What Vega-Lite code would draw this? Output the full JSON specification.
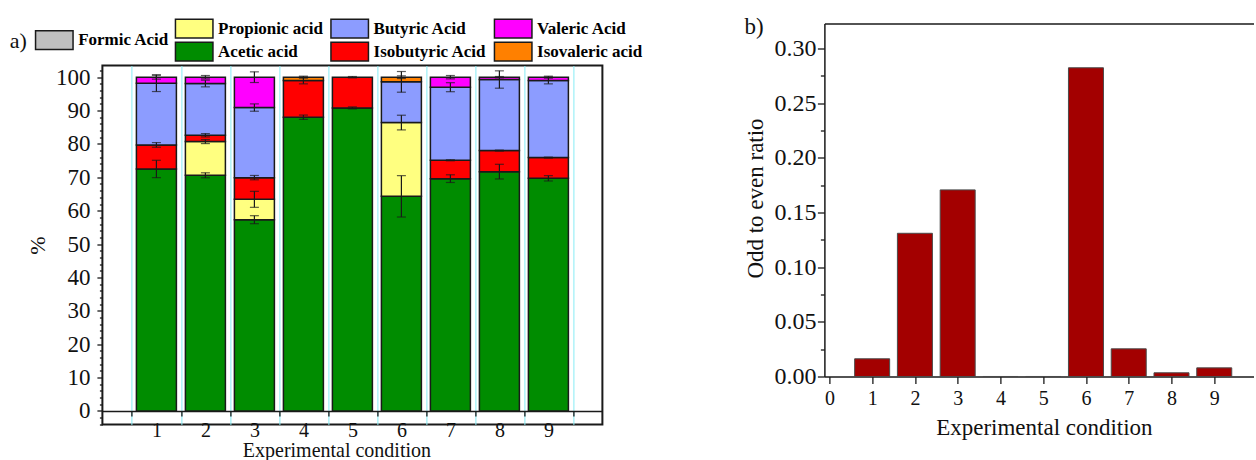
{
  "$schema": "https://vega.github.io/schema/vega-lite/v6.json",
  "background": "white",
  "padding": {"left": 8.4, "top": 10.5, "right": 0, "bottom": 0},
  "bounds": "flush",
  "spacing": 722,
  "config": {
    "font": "Liberation Serif",
    "view": {"stroke": null},
    "axis": {
      "labelFont": "Liberation Serif",
      "titleFont": "Liberation Serif",
      "titleFontWeight": "normal",
      "labelColor": "#111",
      "titleColor": "#111",
      "domainColor": "#1a1a1a",
      "tickColor": "#1a1a1a",
      "domainWidth": 1.5,
      "tickWidth": 1.3,
      "grid": false,
      "labelFlush": false,
      "labelOverlap": false
    },
    "legend": {"labelFont": "Liberation Serif", "titleFont": "Liberation Serif"},
    "title": {"font": "Liberation Serif"}
  },
  "datasets": {
    "acids": [
      {"cond": 1, "acid": "Formic Acid", "pct": 0, "sd": 0},
      {"cond": 2, "acid": "Formic Acid", "pct": 0, "sd": 0},
      {"cond": 3, "acid": "Formic Acid", "pct": 0, "sd": 0},
      {"cond": 4, "acid": "Formic Acid", "pct": 0, "sd": 0},
      {"cond": 5, "acid": "Formic Acid", "pct": 0, "sd": 0},
      {"cond": 6, "acid": "Formic Acid", "pct": 0, "sd": 0},
      {"cond": 7, "acid": "Formic Acid", "pct": 0, "sd": 0},
      {"cond": 8, "acid": "Formic Acid", "pct": 0, "sd": 0},
      {"cond": 9, "acid": "Formic Acid", "pct": 0, "sd": 0},

      {"cond": 1, "acid": "Acetic acid", "pct": 72.5, "sd": 2.6},
      {"cond": 1, "acid": "Isobutyric Acid", "pct": 7.2, "sd": 0.7},
      {"cond": 1, "acid": "Butyric Acid", "pct": 18.5, "sd": 2.5},
      {"cond": 1, "acid": "Valeric Acid", "pct": 1.8, "sd": 0.6},

      {"cond": 2, "acid": "Acetic acid", "pct": 70.6, "sd": 0.75},
      {"cond": 2, "acid": "Propionic acid", "pct": 10.1, "sd": 0.6},
      {"cond": 2, "acid": "Isobutyric Acid", "pct": 1.9, "sd": 0.5},
      {"cond": 2, "acid": "Butyric Acid", "pct": 15.5, "sd": 1.0},
      {"cond": 2, "acid": "Valeric Acid", "pct": 1.9, "sd": 0.5},

      {"cond": 3, "acid": "Acetic acid", "pct": 57.3, "sd": 1.2},
      {"cond": 3, "acid": "Propionic acid", "pct": 6.1, "sd": 2.4},
      {"cond": 3, "acid": "Isobutyric Acid", "pct": 6.5, "sd": 0.65},
      {"cond": 3, "acid": "Butyric Acid", "pct": 21.0, "sd": 1.1},
      {"cond": 3, "acid": "Valeric Acid", "pct": 9.1, "sd": 1.6},

      {"cond": 4, "acid": "Acetic acid", "pct": 88.0, "sd": 0.65},
      {"cond": 4, "acid": "Isobutyric Acid", "pct": 11.0, "sd": 1.0},
      {"cond": 4, "acid": "Isovaleric acid", "pct": 1.0, "sd": 0.3},

      {"cond": 5, "acid": "Acetic acid", "pct": 90.8, "sd": 0.3},
      {"cond": 5, "acid": "Isobutyric Acid", "pct": 9.2, "sd": 0.2},

      {"cond": 6, "acid": "Acetic acid", "pct": 64.3, "sd": 6.2},
      {"cond": 6, "acid": "Propionic acid", "pct": 22.1, "sd": 2.2},
      {"cond": 6, "acid": "Butyric Acid", "pct": 12.2, "sd": 3.1},
      {"cond": 6, "acid": "Isovaleric acid", "pct": 1.4, "sd": 0.4},

      {"cond": 7, "acid": "Acetic acid", "pct": 69.6, "sd": 1.15},
      {"cond": 7, "acid": "Isobutyric Acid", "pct": 5.5, "sd": 0.15},
      {"cond": 7, "acid": "Butyric Acid", "pct": 21.9, "sd": 1.35},
      {"cond": 7, "acid": "Valeric Acid", "pct": 3.0, "sd": 0.5},

      {"cond": 8, "acid": "Acetic acid", "pct": 71.7, "sd": 2.2},
      {"cond": 8, "acid": "Isobutyric Acid", "pct": 6.3, "sd": 0.15},
      {"cond": 8, "acid": "Butyric Acid", "pct": 21.3, "sd": 2.6},
      {"cond": 8, "acid": "Valeric Acid", "pct": 0.7, "sd": 0.2},

      {"cond": 9, "acid": "Acetic acid", "pct": 69.7, "sd": 0.8},
      {"cond": 9, "acid": "Isobutyric Acid", "pct": 6.2, "sd": 0.15},
      {"cond": 9, "acid": "Butyric Acid", "pct": 23.1, "sd": 1.0},
      {"cond": 9, "acid": "Valeric Acid", "pct": 1.0, "sd": 0.3}
    ],
    "ratio": [
      {"cond": 1, "ratio": 0.0162},
      {"cond": 2, "ratio": 0.131},
      {"cond": 3, "ratio": 0.1707},
      {"cond": 4, "ratio": 0},
      {"cond": 5, "ratio": 0},
      {"cond": 6, "ratio": 0.2824},
      {"cond": 7, "ratio": 0.0253},
      {"cond": 8, "ratio": 0.0034},
      {"cond": 9, "ratio": 0.0079}
    ]
  },
  "hconcat": [
    {
      "bounds": "flush",
      "spacing": 41,
      "vconcat": [
        {
          "width": 500,
          "height": 1,
          "data": {"values": []},
          "mark": {"type": "point", "opacity": 0},
          "encoding": {}
        },
        {
          "width": 500,
          "height": 359,
          "view": {"stroke": "#1a1a1a", "strokeWidth": 2},
          "data": {"name": "acids"},
          "transform": [
            {"calculate": "indexof(['Formic Acid','Acetic acid','Propionic acid','Isobutyric Acid','Butyric Acid','Valeric Acid','Isovaleric acid'], datum.acid)", "as": "stackRank"},
            {"stack": "pct", "groupby": ["cond"], "sort": [{"field": "stackRank", "order": "ascending"}], "as": ["pctLow", "pctHigh"]}
          ],
          "resolve": {
            "scale": {"color": "independent"},
            "axis": {"x": "independent", "y": "independent"}
          },
          "layer": [
            {
              "transform": [{"filter": "datum.acid === 'Formic Acid'"}],
              "mark": {"type": "bar", "size": 40, "stroke": "#1a1a1a", "strokeWidth": 1.5},
              "encoding": {
                "x": {
                  "field": "cond", "type": "quantitative",
                  "scale": {"domain": [0, 10], "nice": false, "zero": false},
                  "axis": {"orient": "bottom", "values": [0.5, 1.5, 2.5, 3.5, 4.5, 5.5, 6.5, 7.5, 8.5, 9.5], "grid": true, "gridColor": "#86ecf5", "gridWidth": 1, "ticks": false, "tickSize": 0, "labels": false, "domain": false, "title": null}
                },
                "y": {
                  "field": "pctLow", "type": "quantitative",
                  "scale": {"domain": [-4.07, 103.5], "nice": false, "zero": false},
                  "axis": null
                },
                "y2": {"field": "pctHigh"},
                "color": {
                  "field": "acid", "type": "nominal",
                  "scale": {"domain": ["Formic Acid"], "range": ["#c0c0c0"]},
                  "legend": {
                    "orient": "none", "legendX": -92.6, "legendY": -36,
                    "title": "a)", "titleOrient": "left", "titleFontSize": 22, "titleFontWeight": "normal", "titleColor": "#111",
                    "titleAnchor": "middle", "titleBaseline": "middle", "titlePadding": 16,
                    "symbolType": "M-2,-1H2V1H-2Z", "symbolSize": 351.6, "symbolStrokeColor": "#1a1a1a", "symbolStrokeWidth": 1.5,
                    "labelFontSize": 17, "labelFontWeight": "bold", "labelColor": "#000", "labelOffset": 13.4, "padding": 0
                  }
                }
              }
            },
            {
              "transform": [{"filter": "datum.acid !== 'Formic Acid'"}],
              "mark": {"type": "bar", "size": 40, "stroke": "#1a1a1a", "strokeWidth": 1.5},
              "encoding": {
                "x": {
                  "field": "cond", "type": "quantitative",
                  "scale": {"domain": [0, 10], "nice": false, "zero": false},
                  "axis": {"orient": "bottom", "values": [1, 2, 3, 4, 5, 6, 7, 8, 9], "ticks": false, "tickSize": 0, "domain": false, "labelFontSize": 20, "labelBaseline": "alphabetic", "labelPadding": 11.7, "title": "Experimental condition", "titleFontSize": 20, "titleBaseline": "alphabetic", "titleAlign": "center", "titleX": 234, "titleY": 32}
                },
                "y": {
                  "field": "pctLow", "type": "quantitative",
                  "scale": {"domain": [-4.07, 103.5], "nice": false, "zero": false},
                  "axis": {"orient": "left", "values": [0, 10, 20, 30, 40, 50, 60, 70, 80, 90, 100], "tickSize": 5.5, "labelFontSize": 23, "labelPadding": 7, "domain": false, "title": "%", "titleFontSize": 22, "titleAngle": -90, "titleBaseline": "alphabetic", "titleAlign": "center", "titleX": -57.7, "titleY": 179.5}
                },
                "y2": {"field": "pctHigh"},
                "color": {
                  "field": "acid", "type": "nominal",
                  "scale": {
                    "domain": ["Propionic acid", "Acetic acid", "Butyric Acid", "Isobutyric Acid", "Valeric Acid", "Isovaleric acid"],
                    "range": ["#ffff80", "#008c00", "#8c9cff", "#ff0000", "#ff00ff", "#ff8000"]
                  },
                  "legend": {
                    "orient": "none", "legendX": 75.3, "legendY": -53.5, "columns": 3, "title": null, "padding": 6,
                    "symbolType": "M-2,-1H2V1H-2Z", "symbolSize": 351.6, "symbolStrokeColor": "#1a1a1a", "symbolStrokeWidth": 1.5,
                    "labelFontSize": 17, "labelFontWeight": "bold", "labelColor": "#000", "labelOffset": 13.4, "labelLimit": 220,
                    "columnPadding": 3.5, "rowPadding": -2
                  }
                }
              }
            },
            {
              "transform": [{"filter": "datum.acid === 'Formic Acid'"}],
              "mark": {"type": "bar", "size": 40, "opacity": 0},
              "encoding": {
                "x": {
                  "field": "cond", "type": "quantitative",
                  "scale": {"domain": [0, 10], "nice": false, "zero": false},
                  "axis": {"orient": "bottom", "offset": -13.6, "values": [0.5, 1.5, 2.5, 3.5, 4.5, 5.5, 6.5, 7.5, 8.5, 9.5], "tickSize": 5, "labels": false, "domain": true, "title": null}
                },
                "y": {
                  "field": "pctLow", "type": "quantitative",
                  "scale": {"domain": [-4.07, 103.5], "nice": false, "zero": false},
                  "axis": {"orient": "left", "values": [-4, -2, 2, 4, 6, 8, 12, 14, 16, 18, 22, 24, 26, 28, 32, 34, 36, 38, 42, 44, 46, 48, 52, 54, 56, 58, 62, 64, 66, 68, 72, 74, 76, 78, 82, 84, 86, 88, 92, 94, 96, 98, 102], "tickSize": 3, "labels": false, "domain": false, "title": null}
                },
                "y2": {"field": "pctHigh"}
              }
            },
            {
              "transform": [{"filter": "datum.acid !== 'Formic Acid'"}],
              "mark": {
                "type": "errorbar",
                "ticks": {"size": 9, "color": "#1a1a1a", "thickness": 1.2},
                "rule": {"color": "#1a1a1a", "strokeWidth": 1.2}
              },
              "encoding": {
                "x": {"field": "cond", "type": "quantitative", "scale": {"domain": [0, 10], "nice": false, "zero": false}, "axis": null},
                "y": {"field": "pctHigh", "type": "quantitative", "scale": {"domain": [-4.07, 103.5], "nice": false, "zero": false}, "axis": null},
                "yError": {"field": "sd"}
              }
            }
          ]
        }
      ]
    },
    {
      "width": 429.5,
      "height": 353,
      "data": {"name": "ratio"},
      "title": {"text": "b)", "anchor": "start", "frame": "bounds", "orient": "top", "fontSize": 23, "fontWeight": "normal", "color": "#111", "baseline": "alphabetic", "offset": -7.3, "dy": 26},
      "resolve": {"axis": {"x": "independent", "y": "independent"}},
      "layer": [
        {
          "mark": {"type": "bar", "size": 35, "fill": "#a30000", "stroke": "#4a4a4a", "strokeWidth": 1},
          "encoding": {
            "x": {
              "field": "cond", "type": "quantitative",
              "scale": {"domain": [0, 9.81], "nice": false, "zero": false},
              "axis": {"orient": "bottom", "values": [0, 1, 2, 3, 4, 5, 6, 7, 8, 9], "tickSize": 7, "labelFontSize": 20, "labelBaseline": "alphabetic", "labelPadding": 20.7, "title": "Experimental condition", "titleFontSize": 23, "titleBaseline": "alphabetic", "titleAlign": "center", "titleX": 219.5, "titleY": 58.3}
            },
            "y": {
              "field": "ratio", "type": "quantitative",
              "scale": {"domain": [0, 0.3229], "nice": false},
              "axis": {"orient": "left", "values": [0, 0.05, 0.1, 0.15, 0.2, 0.25, 0.3], "format": ".2f", "tickSize": 7, "labelFontSize": 24, "labelPadding": 1.5, "title": "Odd to even ratio", "titleFontSize": 23, "titleAngle": -90, "titleBaseline": "alphabetic", "titleAlign": "center", "titleX": -62, "titleY": 174.5}
            }
          }
        },
        {
          "mark": {"type": "bar", "size": 35, "opacity": 0},
          "encoding": {
            "x": {
              "field": "cond", "type": "quantitative",
              "scale": {"domain": [0, 9.81], "nice": false, "zero": false},
              "axis": {"orient": "top", "labels": false, "ticks": false, "tickSize": 0, "labelPadding": 0, "minExtent": 0, "maxExtent": 0, "domain": true, "title": null}
            },
            "y": {
              "field": "ratio", "type": "quantitative",
              "scale": {"domain": [0, 0.3229], "nice": false},
              "axis": {"orient": "left", "values": [0.025, 0.075, 0.125, 0.175, 0.225, 0.275], "tickSize": 4, "labels": false, "domain": false, "title": null}
            }
          }
        }
      ]
    }
  ]
}
